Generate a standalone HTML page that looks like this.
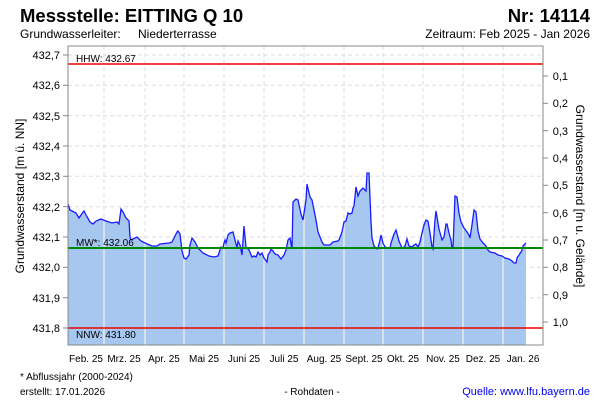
<!DOCTYPE html>
<html><head><meta charset="utf-8"><style>
body{margin:0;background:#fff;}
svg{display:block;font-family:"Liberation Sans",Arial,sans-serif;}
</style></head><body>
<svg width="600" height="400" viewBox="0 0 600 400">
<text x="20" y="22" font-size="18.5" font-weight="bold">Messstelle: EITTING Q 10</text>
<text x="590" y="22" font-size="18.5" font-weight="bold" text-anchor="end">Nr: 14114</text>
<text x="20" y="38" font-size="12">Grundwasserleiter:</text>
<text x="138" y="38" font-size="12">Niederterrasse</text>
<text x="590" y="38" font-size="12" text-anchor="end">Zeitraum: Feb 2025 - Jan 2026</text>
<g stroke="#ddd" stroke-dasharray="4,3" stroke-width="1">
<line x1="68" x2="543" y1="55" y2="55"/><line x1="68" x2="543" y1="85.3" y2="85.3"/><line x1="68" x2="543" y1="115.7" y2="115.7"/><line x1="68" x2="543" y1="146" y2="146"/><line x1="68" x2="543" y1="176.3" y2="176.3"/><line x1="68" x2="543" y1="206.7" y2="206.7"/><line x1="68" x2="543" y1="237" y2="237"/><line x1="68" x2="543" y1="267.3" y2="267.3"/><line x1="68" x2="543" y1="297.7" y2="297.7"/>
<line x1="104" x2="104" y1="46" y2="345"/><line x1="145" x2="145" y1="46" y2="345"/><line x1="184" x2="184" y1="46" y2="345"/><line x1="224" x2="224" y1="46" y2="345"/><line x1="264" x2="264" y1="46" y2="345"/><line x1="304" x2="304" y1="46" y2="345"/><line x1="344" x2="344" y1="46" y2="345"/><line x1="383" x2="383" y1="46" y2="345"/><line x1="423" x2="423" y1="46" y2="345"/><line x1="463" x2="463" y1="46" y2="345"/><line x1="503" x2="503" y1="46" y2="345"/>
</g>
<polygon fill="#a6c8f0" points="68,345 68,204 70,210 76,213 79,218 83,212 84,211 86,215 90,222 93,224 96,221 101,219 106,221 112,223 117,222 119,224 121,209 123,212 126,218 129,221 130,237 131,240 137,237 141,241 145,243 152,246 157,246 160,244 169,243 172,242 177,232 178,231 180,234 182,251 184,258 186,259 189,255 190,245 192,238 195,242 198,248 203,253 209,256 214,257 218,256 219,253 221,247 223,248 224,243 225,240 226,243 228,235 230,233 233,232 234,236 237,248 238,241 240,245 242,255 244,226 246,247 249,250 252,257 254,256 256,257 258,252 260,255 262,253 264,258 267,262 268,255 270,252 271,249 273,251 275,254 278,255 281,259 284,255 286,250 288,240 290,238 292,249 293,202 296,199 298,200 301,214 303,220 306,200 307,184 310,197 312,200 316,220 318,232 322,242 324,245 330,245 333,242 338,241 339,240 342,232 344,222 346,221 348,213 350,214 352,213 353,208 354,206 356,187 358,196 360,191 363,188 366,191 367,173 369,173 371,222 372,238 374,246 377,249 378,248 379,244 380,240 381,235 383,243 385,247 389,248 390,248 391,243 392,240 394,234 396,230 399,241 402,248 403,248 405,246 407,239 409,246 412,247 414,245 416,244 418,247 420,242 422,233 424,225 426,220 428,221 430,233 432,247 433,249 435,220 436,211 439,229 442,240 444,237 446,224 447,224 449,233 451,240 452,248 453,248 455,196 457,197 459,213 461,222 464,228 467,232 469,235 470,238 472,225 474,210 476,212 478,231 480,239 483,243 486,246 488,250 490,252 495,253 498,255 502,256 505,258 509,259 512,261 514,263 516,263 517,258 519,255 521,252 522,250 523,246 526,243 526,345"/>
<g stroke="#e8e8e8" stroke-width="1.5">
<line x1="104" x2="104" y1="221" y2="345"/><line x1="145" x2="145" y1="243" y2="345"/><line x1="184" x2="184" y1="258" y2="345"/><line x1="224" x2="224" y1="243" y2="345"/><line x1="264" x2="264" y1="258" y2="345"/><line x1="304" x2="304" y1="205" y2="345"/><line x1="344" x2="344" y1="222" y2="345"/><line x1="383" x2="383" y1="243" y2="345"/><line x1="423" x2="423" y1="233" y2="345"/><line x1="463" x2="463" y1="228" y2="345"/><line x1="503" x2="503" y1="256" y2="345"/>
</g>
<polyline fill="none" stroke="#1a1aff" stroke-width="1.3" points="68,204 70,210 76,213 79,218 83,212 84,211 86,215 90,222 93,224 96,221 101,219 106,221 112,223 117,222 119,224 121,209 123,212 126,218 129,221 130,237 131,240 137,237 141,241 145,243 152,246 157,246 160,244 169,243 172,242 177,232 178,231 180,234 182,251 184,258 186,259 189,255 190,245 192,238 195,242 198,248 203,253 209,256 214,257 218,256 219,253 221,247 223,248 224,243 225,240 226,243 228,235 230,233 233,232 234,236 237,248 238,241 240,245 242,255 244,226 246,247 249,250 252,257 254,256 256,257 258,252 260,255 262,253 264,258 267,262 268,255 270,252 271,249 273,251 275,254 278,255 281,259 284,255 286,250 288,240 290,238 292,249 293,202 296,199 298,200 301,214 303,220 306,200 307,184 310,197 312,200 316,220 318,232 322,242 324,245 330,245 333,242 338,241 339,240 342,232 344,222 346,221 348,213 350,214 352,213 353,208 354,206 356,187 358,196 360,191 363,188 366,191 367,173 369,173 371,222 372,238 374,246 377,249 378,248 379,244 380,240 381,235 383,243 385,247 389,248 390,248 391,243 392,240 394,234 396,230 399,241 402,248 403,248 405,246 407,239 409,246 412,247 414,245 416,244 418,247 420,242 422,233 424,225 426,220 428,221 430,233 432,247 433,249 435,220 436,211 439,229 442,240 444,237 446,224 447,224 449,233 451,240 452,248 453,248 455,196 457,197 459,213 461,222 464,228 467,232 469,235 470,238 472,225 474,210 476,212 478,231 480,239 483,243 486,246 488,250 490,252 495,253 498,255 502,256 505,258 509,259 512,261 514,263 516,263 517,258 519,255 521,252 522,250 523,246 526,243"/>
<line x1="68" x2="543" y1="64" y2="64" stroke="#e00" stroke-width="1.5"/>
<line x1="68" x2="543" y1="328" y2="328" stroke="#e00" stroke-width="1.5"/>
<line x1="68" x2="543" y1="248" y2="248" stroke="#080" stroke-width="2"/>
<g font-size="10">
<text x="76" y="62">HHW: 432.67</text>
<text x="76" y="246">MW*: 432.06</text>
<text x="76" y="338">NNW: 431.80</text>
</g>
<rect x="68" y="46" width="475" height="299" fill="none" stroke="#888"/>
<g stroke="#888"><line x1="63" x2="68" y1="55" y2="55"/><line x1="63" x2="68" y1="85.3" y2="85.3"/><line x1="63" x2="68" y1="115.7" y2="115.7"/><line x1="63" x2="68" y1="146" y2="146"/><line x1="63" x2="68" y1="176.3" y2="176.3"/><line x1="63" x2="68" y1="206.7" y2="206.7"/><line x1="63" x2="68" y1="237" y2="237"/><line x1="63" x2="68" y1="267.3" y2="267.3"/><line x1="63" x2="68" y1="297.7" y2="297.7"/><line x1="63" x2="68" y1="328" y2="328"/>
<line x1="543" x2="548" y1="76" y2="76"/><line x1="543" x2="548" y1="103.3" y2="103.3"/><line x1="543" x2="548" y1="130.7" y2="130.7"/><line x1="543" x2="548" y1="158" y2="158"/><line x1="543" x2="548" y1="185.3" y2="185.3"/><line x1="543" x2="548" y1="212.7" y2="212.7"/><line x1="543" x2="548" y1="240" y2="240"/><line x1="543" x2="548" y1="267.3" y2="267.3"/><line x1="543" x2="548" y1="294.7" y2="294.7"/><line x1="543" x2="548" y1="322" y2="322"/></g>
<g font-size="11" text-anchor="end">
<text x="60" y="59">432,7</text><text x="60" y="89">432,6</text><text x="60" y="120">432,5</text><text x="60" y="150">432,4</text><text x="60" y="180">432,3</text><text x="60" y="211">432,2</text><text x="60" y="241">432,1</text><text x="60" y="271">432,0</text><text x="60" y="302">431,9</text><text x="60" y="332">431,8</text>
</g>
<g font-size="11" text-anchor="end">
<text x="568" y="80">0,1</text><text x="568" y="107">0,2</text><text x="568" y="135">0,3</text><text x="568" y="162">0,4</text><text x="568" y="189">0,5</text><text x="568" y="217">0,6</text><text x="568" y="244">0,7</text><text x="568" y="271">0,8</text><text x="568" y="299">0,9</text><text x="568" y="326">1,0</text>
</g>
<text transform="translate(24,196) rotate(-90)" font-size="12" text-anchor="middle">Grundwasserstand [m ü. NN]</text>
<text transform="translate(576,196) rotate(90)" font-size="12" text-anchor="middle">Grundwasserstand [m u. Gelände]</text>
<g font-size="10" text-anchor="middle">
<text x="86" y="362">Feb. 25</text><text x="124" y="362">Mrz. 25</text><text x="164" y="362">Apr. 25</text><text x="204" y="362">Mai 25</text><text x="244" y="362">Juni 25</text><text x="284" y="362">Juli 25</text><text x="324" y="362">Aug. 25</text><text x="364" y="362">Sept. 25</text><text x="403" y="362">Okt. 25</text><text x="443" y="362">Nov. 25</text><text x="483" y="362">Dez. 25</text><text x="523" y="362">Jan. 26</text>
</g>
<text x="20" y="380" font-size="10">* Abflussjahr (2000-2024)</text>
<text x="20" y="395" font-size="10">erstellt:  17.01.2026</text>
<text x="312" y="395" font-size="10" text-anchor="middle">- Rohdaten -</text>
<text x="590" y="395" font-size="11" text-anchor="end" fill="#00e">Quelle: www.lfu.bayern.de</text>
</svg>
</body></html>
